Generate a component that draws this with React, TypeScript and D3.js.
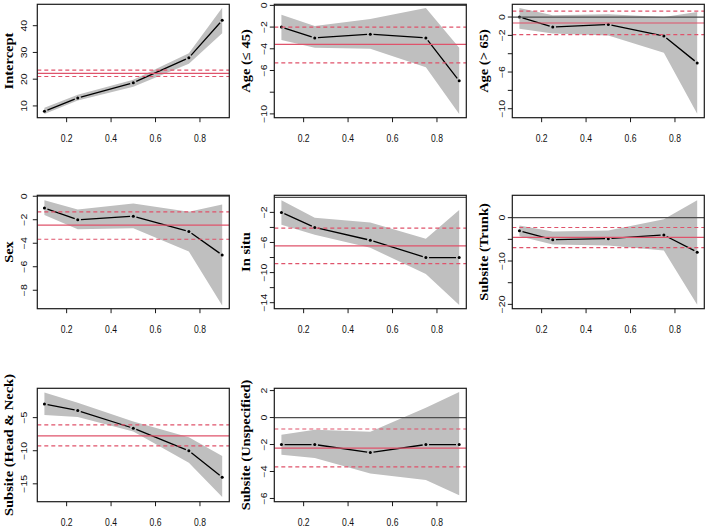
import React from "react";
import * as d3 from "d3";

// quantiles
const taus = [0.1, 0.25, 0.5, 0.75, 0.9];

// panel titles
const titles = [
  "Intercept",
  "Age (\u2264 45)",
  "Age (> 65)",
  "Sex",
  "In situ",
  "Subsite (Trunk)",
  "Subsite (Head & Neck)",
  "Subsite (Unspecified)",
];

// coefficients, lower and upper bounds, OLS [estimate, lower, upper]
const interceptCoef = [8, 13, 18.7, 28, 42];
const interceptLo = [7.0, 12.0, 17.2, 25.8, 37.2];
const interceptHi = [9.3, 14.2, 19.8, 29.7, 46.7];
const interceptOls = [22.2, 21.0, 23.4];

const ageLe45Coef = [-2.0, -3.0, -2.65, -3.0, -6.95];
const ageLe45Lo = [-3.2, -3.9, -4.0, -5.7, -10.0];
const ageLe45Hi = [-0.86, -1.9, -1.25, -0.25, -3.9];
const ageLe45Ols = [-3.6, -5.3, -2.0];

const ageGt65Coef = [0.0, -1.09, -0.8, -2.07, -5.0];
const ageGt65Lo = [-1.27, -1.8, -2.0, -3.9, -10.55];
const ageGt65Hi = [1.0, 0.2, 0.3, 0.0, 0.55];
const ageGt65Ols = [-0.65, -1.92, 0.65];

const sexCoef = [-1.0, -2.0, -1.7, -3.0, -5.0];
const sexLo = [-1.6, -2.8, -2.73, -4.7, -9.3];
const sexHi = [-0.34, -1.13, -0.62, -1.33, -0.7];
const sexOls = [-2.45, -3.66, -1.33];

const inSituCoef = [-2.0, -4.0, -5.7, -8.0, -8.0];
const inSituLo = [-3.66, -4.97, -6.7, -10.2, -14.3];
const inSituHi = [-0.4, -2.7, -3.36, -5.5, -1.7];
const inSituOls = [-6.45, -8.8, -4.1];

const trunkCoef = [-3.0, -5.07, -4.84, -4.0, -7.95];
const trunkLo = [-4.3, -6.2, -6.4, -7.6, -20.1];
const trunkHi = [-1.8, -3.2, -2.95, -0.36, 4.0];
const trunkOls = [-4.55, -6.9, -2.27];

const headNeckCoef = [-2.93, -3.94, -6.6, -10.0, -14.0];
const headNeckLo = [-4.6, -4.9, -7.1, -11.8, -17.0];
const headNeckHi = [-1.2, -2.74, -5.6, -7.96, -10.8];
const headNeckOls = [-7.76, -9.27, -6.1];

const unspecCoef = [-2.0, -2.0, -2.6, -2.0, -2.0];
const unspecLo = [-2.75, -3.0, -4.14, -4.63, -5.77];
const unspecHi = [-1.27, -0.9, -1.05, 0.73, 1.9];
const unspecOls = [-2.26, -3.65, -0.85];

// axis ticks
const xTicks = [0.2, 0.4, 0.6, 0.8];
const xDomain = [0.068, 0.932];
const yTicksList = [
  [10, 20, 30, 40],
  [0, -2, -4, -6, -8, -10],
  [0, -2, -4, -6, -8, -10],
  [0, -2, -4, -6, -8],
  [-2, -4, -6, -8, -10, -12, -14],
  [0, -5, -10, -15, -20],
  [-5, -10, -15],
  [2, 0, -2, -4, -6],
];
const yLabelsList = [
  [10, 20, 30, 40],
  [0, -2, -4, -6, -10],
  [0, -2, -6, -10],
  [0, -2, -4, -6, -8],
  [-2, -6, -10, -14],
  [0, -10, -20],
  [-5, -10, -15],
  [2, 0, -2, -4, -6],
];
const yDomains = [
  [5.6, 48.0],
  [-10.35, 0.1],
  [-10.98, 1.39],
  [-9.57, 0.08],
  [-14.8, 0.27],
  [-21.0, 5.16],
  [-17.7, -0.57],
  [-6.24, 2.17],
];

const coefs = [interceptCoef, ageLe45Coef, ageGt65Coef, sexCoef, inSituCoef, trunkCoef, headNeckCoef, unspecCoef];
const los = [interceptLo, ageLe45Lo, ageGt65Lo, sexLo, inSituLo, trunkLo, headNeckLo, unspecLo];
const his = [interceptHi, ageLe45Hi, ageGt65Hi, sexHi, inSituHi, trunkHi, headNeckHi, unspecHi];
const olss = [interceptOls, ageLe45Ols, ageGt65Ols, sexOls, inSituOls, trunkOls, headNeckOls, unspecOls];

const W = 708;
const H = 527;
const colX0 = [37.3, 274.3, 512.3];
const colW = 192;
const rowY0 = [4.3, 195.3, 388.3];
const rowH = 113.4;
const yLabOff = [10, 7.5, 7];
const titleOff = 24;

const RED = "#DF536B";
const BAND = "#BFBFBF";
const SQ = 0.78;
const sans = "'Liberation Sans', Arial, Helvetica, sans-serif";
const serif = "'Liberation Serif', 'Times New Roman', serif";

const fmtMinus = (v: number) => String(v).replace("-", "\u2212");

function Panel({ i }: { i: number }) {
  const col = i % 3;
  const row = Math.floor(i / 3);
  const x0 = colX0[col];
  const x1 = x0 + colW;
  const y0 = rowY0[row];
  const y1 = y0 + rowH;
  const xs = d3.scaleLinear().domain(xDomain).range([x0, x1]);
  const ys = d3.scaleLinear().domain(yDomains[i]).range([y1, y0]);
  const coef = coefs[i];
  const lo = los[i];
  const hi = his[i];
  const ols = olss[i];
  const pts = taus.map((t, k) => ({ t, c: coef[k], lo: lo[k], hi: hi[k] }));
  const area = d3
    .area<any>()
    .x((d) => xs(d.t))
    .y0((d) => ys(d.lo))
    .y1((d) => ys(d.hi));
  const gap = 3.2;
  const segs: string[] = [];
  for (let k = 0; k < pts.length - 1; k++) {
    const ax = xs(pts[k].t), ay = ys(pts[k].c);
    const bx = xs(pts[k + 1].t), by = ys(pts[k + 1].c);
    const len = Math.hypot(bx - ax, by - ay);
    if (len <= 2 * gap) continue;
    const ux = (bx - ax) / len, uy = (by - ay) / len;
    segs.push(
      `M${ax + ux * gap},${ay + uy * gap}L${bx - ux * gap},${by - uy * gap}`
    );
  }
  const [yd0, yd1] = yDomains[i];
  const showZero = 0 >= yd0 && 0 <= yd1;
  const clipId = `clip${i}`;
  const midY = (y0 + y1) / 2;
  const tx = x0 - titleOff;
  return (
    <g>
      <defs>
        <clipPath id={clipId}>
          <rect x={x0} y={y0} width={colW} height={rowH} />
        </clipPath>
      </defs>
      <g clipPath={`url(#${clipId})`}>
        <path d={area(pts) || ""} fill={BAND} stroke="none" />
        <path d={segs.join("")} stroke="#000" strokeWidth={1.3} fill="none" />
        {pts.map((p, k) => (
          <circle key={k} cx={xs(p.t)} cy={ys(p.c)} r={1.5} fill="#000" />
        ))}
        <line x1={x0} x2={x1} y1={ys(ols[0])} y2={ys(ols[0])} stroke={RED} strokeWidth={1.2} />
        <line x1={x0} x2={x1} y1={ys(ols[1])} y2={ys(ols[1])} stroke={RED} strokeWidth={1.2} strokeDasharray="4,3" />
        <line x1={x0} x2={x1} y1={ys(ols[2])} y2={ys(ols[2])} stroke={RED} strokeWidth={1.2} strokeDasharray="4,3" />
        {showZero && (
          <line x1={x0} x2={x1} y1={ys(0)} y2={ys(0)} stroke="#4D4D4D" strokeWidth={1.2} />
        )}
      </g>
      <rect x={x0} y={y0} width={colW} height={rowH} fill="none" stroke="#1a1a1a" strokeWidth={1.2} />
      {xTicks.map((t) => (
        <g key={t}>
          <line x1={xs(t)} x2={xs(t)} y1={y1} y2={y1 + 4.5} stroke="#1a1a1a" strokeWidth={1} />
          <text
            transform={`translate(${xs(t)},${y1 + 24}) scale(${SQ},1)`}
            textAnchor="middle"
            fontFamily={sans}
            fontSize={11}
            fill="#111"
          >
            {t.toFixed(1)}
          </text>
        </g>
      ))}
      {yTicksList[i].map((v) => (
        <line key={v} x1={x0} x2={x0 - 4.5} y1={ys(v)} y2={ys(v)} stroke="#1a1a1a" strokeWidth={1} />
      ))}
      {yLabelsList[i].map((v) => (
        <text
          key={v}
          transform={`translate(${x0 - yLabOff[col]},${ys(v)}) scale(${SQ},1) rotate(-90)`}
          textAnchor="middle"
          fontFamily={sans}
          fontSize={10.5}
          fill="#111"
        >
          {fmtMinus(v)}
        </text>
      ))}
      <text
        transform={`translate(${tx},${midY}) scale(0.85,1) rotate(-90)`}
        textAnchor="middle"
        fontFamily={serif}
        fontWeight="bold"
        fontSize={14.5}
        fill="#000"
      >
        {titles[i]}
      </text>
    </g>
  );
}

export default function App() {
  return (
    <svg
      width={W}
      height={H}
      viewBox={`0 0 ${W} ${H}`}
      style={{ position: "absolute", left: 0, top: 0, background: "#fff" }}
    >
      <rect x={0} y={0} width={W} height={H} fill="#fff" />
      {titles.map((_, i) => (
        <Panel key={i} i={i} />
      ))}
    </svg>
  );
}
